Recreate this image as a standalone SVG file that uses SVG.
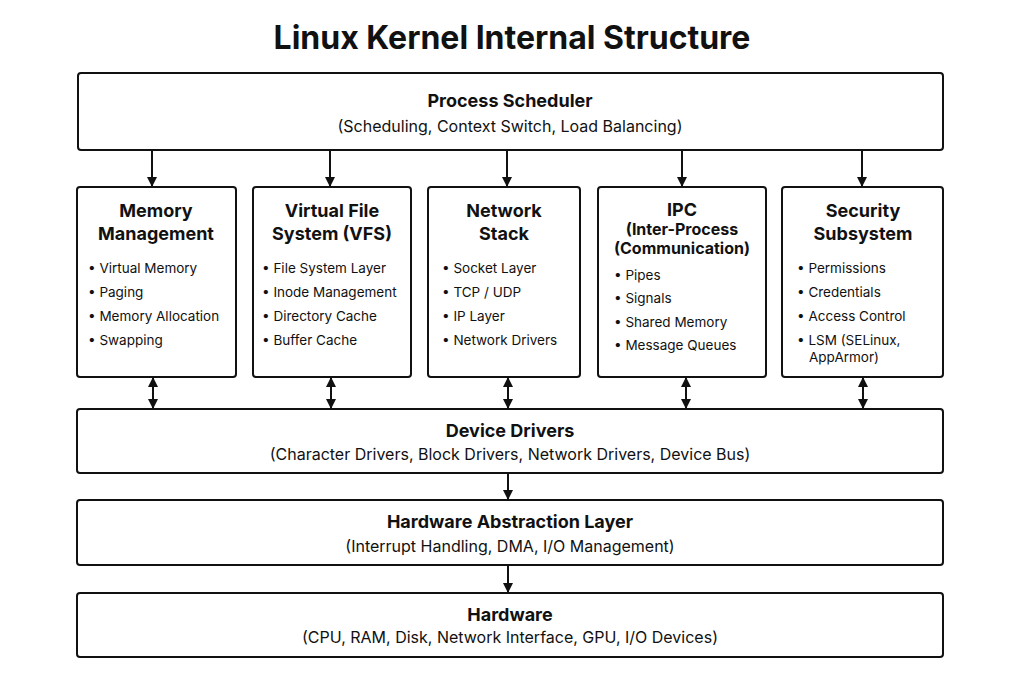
<svg xmlns="http://www.w3.org/2000/svg" width="1024" height="683" viewBox="0 0 1024 683">
<style>
.box{fill:#fff;stroke:#111;stroke-width:2}
text{font-family:"Inter","Liberation Sans",sans-serif;fill:#111;text-anchor:middle}
.t{font-size:32px;font-weight:700}
.h{font-size:18px;font-weight:700}
.s{font-size:16px}
.b{font-size:13.5px;text-anchor:start}
.c line{stroke:#111;stroke-width:2}
</style>
<defs>
<marker id="a" viewBox="0 0 10 10" refX="9" refY="5" markerWidth="5" markerHeight="5" orient="auto-start-reverse"><path d="M0,0L10,5L0,10z" fill="#111"/></marker>
</defs>
<rect width="1024" height="683" fill="#fff"/>
<text class="t" x="512" y="49">Linux Kernel Internal Structure</text>
<g id="sched"><rect class="box" x="78" y="73" width="865" height="77" rx="3"/><text class="h" x="510" y="107">Process Scheduler</text><text class="s" x="510" y="132">(Scheduling, Context Switch, Load Balancing)</text></g>
<g id="mm"><rect class="box" x="77" y="187" width="159" height="190" rx="3"/><text class="h" x="156" y="217">Memory</text><text class="h" x="156" y="240">Management</text>
<text class="b" x="88" y="273">• Virtual Memory</text><text class="b" x="88" y="297">• Paging</text><text class="b" x="88" y="321">• Memory Allocation</text><text class="b" x="88" y="345">• Swapping</text></g>
<g id="vfs"><rect class="box" x="253" y="187" width="158" height="190" rx="3"/><text class="h" x="332" y="217">Virtual File</text><text class="h" x="332" y="240">System (VFS)</text>
<text class="b" x="262" y="273">• File System Layer</text><text class="b" x="262" y="297">• Inode Management</text><text class="b" x="262" y="321">• Directory Cache</text><text class="b" x="262" y="345">• Buffer Cache</text></g>
<g id="net"><rect class="box" x="428" y="187" width="152" height="190" rx="3"/><text class="h" x="504" y="217">Network</text><text class="h" x="504" y="240">Stack</text>
<text class="b" x="442" y="273">• Socket Layer</text><text class="b" x="442" y="297">• TCP / UDP</text><text class="b" x="442" y="321">• IP Layer</text><text class="b" x="442" y="345">• Network Drivers</text></g>
<g id="ipc"><rect class="box" x="598" y="187" width="168" height="190" rx="3"/><text class="h" x="682" y="216">IPC</text><text class="s" x="682" y="235" font-weight="700">(Inter-Process</text><text class="s" x="682" y="254" font-weight="700">(Communication)</text>
<text class="b" x="614" y="280">• Pipes</text><text class="b" x="614" y="303">• Signals</text><text class="b" x="614" y="327">• Shared Memory</text><text class="b" x="614" y="350">• Message Queues</text></g>
<g id="sec"><rect class="box" x="782" y="187" width="161" height="190" rx="3"/><text class="h" x="863" y="217">Security</text><text class="h" x="863" y="240">Subsystem</text>
<text class="b" x="797" y="273">• Permissions</text><text class="b" x="797" y="297">• Credentials</text><text class="b" x="797" y="321">• Access Control</text><text class="b" x="797" y="345">• LSM (SELinux,</text><text class="b" x="809" y="362">AppArmor)</text></g>
<g id="dd"><rect class="box" x="77" y="409" width="866" height="64" rx="3"/><text class="h" x="510" y="437">Device Drivers</text><text class="s" x="510" y="460">(Character Drivers, Block Drivers, Network Drivers, Device Bus)</text></g>
<g id="hal"><rect class="box" x="77" y="500" width="866" height="65" rx="3"/><text class="h" x="510" y="528">Hardware Abstraction Layer</text><text class="s" x="510" y="552">(Interrupt Handling, DMA, I/O Management)</text></g>
<g id="hw"><rect class="box" x="77" y="593" width="866" height="64" rx="3"/><text class="h" x="510" y="621">Hardware</text><text class="s" x="510" y="643">(CPU, RAM, Disk, Network Interface, GPU, I/O Devices)</text></g>
<g class="c" id="connectors">
<line x1="152" y1="150" x2="152" y2="186" marker-end="url(#a)"/>
<line x1="330" y1="150" x2="330" y2="186" marker-end="url(#a)"/>
<line x1="507" y1="150" x2="507" y2="186" marker-end="url(#a)"/>
<line x1="682" y1="150" x2="682" y2="186" marker-end="url(#a)"/>
<line x1="862" y1="150" x2="862" y2="186" marker-end="url(#a)"/>
<line x1="153" y1="378" x2="153" y2="408" marker-start="url(#a)" marker-end="url(#a)"/>
<line x1="331" y1="378" x2="331" y2="408" marker-start="url(#a)" marker-end="url(#a)"/>
<line x1="508" y1="378" x2="508" y2="408" marker-start="url(#a)" marker-end="url(#a)"/>
<line x1="686" y1="378" x2="686" y2="408" marker-start="url(#a)" marker-end="url(#a)"/>
<line x1="863" y1="378" x2="863" y2="408" marker-start="url(#a)" marker-end="url(#a)"/>
<line x1="508" y1="473" x2="508" y2="499" marker-end="url(#a)"/>
<line x1="508" y1="565" x2="508" y2="592" marker-end="url(#a)"/>
</g>
</svg>
